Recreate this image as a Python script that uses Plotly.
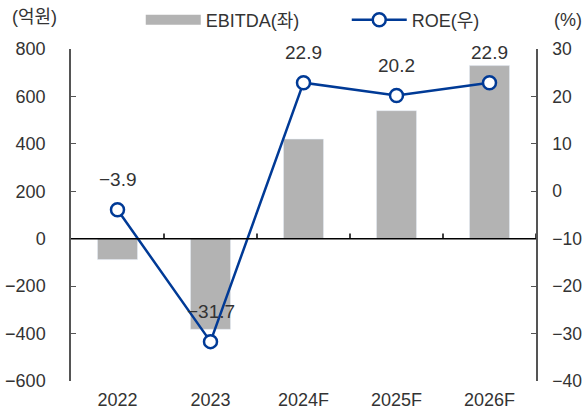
import plotly.graph_objects as go

years = ['2022', '2023', '2024F', '2025F', '2026F']
ebitda = [-88, -382, 420, 540, 730]
roe = [-3.9, -31.7, 22.9, 20.2, 22.9]

_BAR = '#B3B3B3'
_LINE = '#003A96'
_AXIS = '#555555'
_TEXT = '#333333'
_FONT = 'Liberation Sans, Noto Sans CJK KR, sans-serif'

fig = go.Figure()

fig.add_trace(go.Bar(
    x=years, y=ebitda, marker_color=_BAR, width=0.43,
    showlegend=False, yaxis='y',
))
# legend-only swatch drawn as a thick line so it looks like a wide bar
fig.add_trace(go.Scatter(
    x=[None], y=[None], mode='lines', name='EBITDA(좌)',
    line=dict(color=_BAR, width=14), yaxis='y',
))
fig.add_trace(go.Scatter(
    x=years, y=roe, mode='lines+markers', name='ROE(우)', yaxis='y2',
    line=dict(color=_LINE, width=2.5),
    marker=dict(size=13, color='white', line=dict(color=_LINE, width=2.5)),
))

# category index as x, otherwise '2022' is read as a number
for i, v in enumerate(roe):
    fig.add_annotation(x=i, y=v, yref='y2', text=f'{v:.1f}'.replace('-', '\u2212'),
                       showarrow=False, yshift=30, font=dict(size=19, color=_TEXT))

# zero line with category boundary ticks
fig.add_shape(type='line', xref='paper', x0=0, x1=1, yref='y', y0=0, y1=0,
              line=dict(color='black', width=1.5))
for i in range(len(years)):
    fig.add_shape(type='line', xref='x', x0=i + 0.5, x1=i + 0.5, yref='y', y0=0, y1=22,
                  line=dict(color='black', width=1.5))

fig.add_annotation(xref='paper', yref='paper', x=-0.131, y=1.096, text='(억원)', showarrow=False,
                   xanchor='left', yanchor='middle', font=dict(size=18, color=_TEXT))
fig.add_annotation(xref='paper', yref='paper', x=1.034, y=1.087, text='(%)', showarrow=False,
                   xanchor='left', yanchor='middle', font=dict(size=18, color=_TEXT))

fig.update_layout(
    width=584, height=418,
    paper_bgcolor='white', plot_bgcolor='white',
    font=dict(family=_FONT, size=18, color=_TEXT),
    margin=dict(l=71, r=48, t=49, b=37, autoexpand=False),
    legend=dict(orientation='h', x=0.15, xanchor='left', y=1.087, yanchor='middle',
                itemwidth=55, entrywidth=136, font=dict(size=18), bgcolor='rgba(0,0,0,0)'),
    xaxis=dict(type='category', range=[-0.5, 4.5], showline=False, ticks='',
               showgrid=False, ticklabelstandoff=6, automargin=False),
    yaxis=dict(range=[-600, 800], dtick=200, showgrid=False, zeroline=False,
               showline=True, linecolor=_AXIS, linewidth=1.5, automargin=False,
               ticks='inside', ticklen=5, tickcolor=_AXIS, ticklabelstandoff=20),
    yaxis2=dict(range=[-40, 30], dtick=10, overlaying='y', side='right', showgrid=False,
                zeroline=False, showline=True, linecolor=_AXIS, linewidth=1.5,
                automargin=False, tickfont=dict(size=17.5),
                ticks='inside', ticklen=5, tickcolor=_AXIS, ticklabelstandoff=11),
)

fig.write_html('out.html', config={'displayModeBar': False},
               post_script="document.body.style.margin='0';")
